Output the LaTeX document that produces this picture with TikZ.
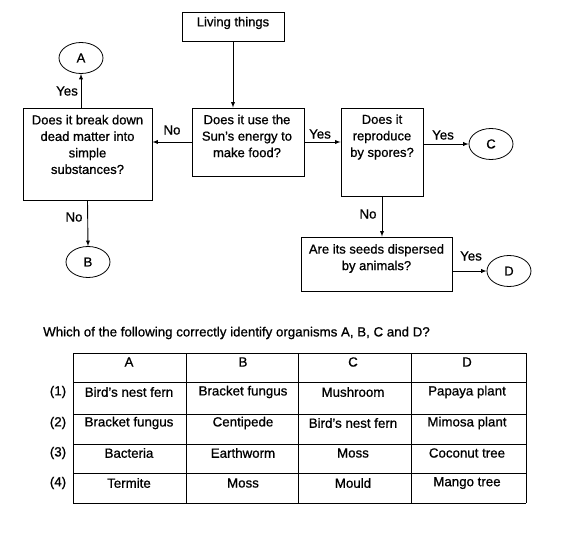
\documentclass[tikz,border=0pt]{standalone}
\usepackage{fontspec}
\setmainfont{Liberation Sans}[FakeBold=0.8]
\usepackage{tikz}
\usetikzlibrary{positioning}
\usetikzlibrary{arrows}
\usetikzlibrary{shapes.geometric}
\tikzset{
    QBox/.style={draw,line width=0.9pt,inner sep=0pt},
    QText/.style={align=center,font=\fontsize{13}{16.5}\selectfont,inner sep=1pt},
    Answer/.style={draw,ellipse,line width=0.8pt,minimum width=44pt,minimum height=31pt,inner sep=0pt,font=\fontsize{13}{15}\selectfont},
    Flow/.style={-latex,line width=0.9pt},
    Word/.style={font=\fontsize{13.3}{15}\selectfont,inner sep=1pt},
    Cell/.style={font=\fontsize{13.3}{15}\selectfont,inner sep=1pt}
}

\begin{document}
\begin{tikzpicture}[x=1pt,y=-1pt]
            \useasboundingbox[fill=white] (0,0) rectangle (574,541);

            % flow chart
            \begin{scope}
                \node[QBox,minimum width=102pt,minimum height=29pt] (living) at (233,26.5) {};
                \node[QText] (livingtext) at (233,23) {Living things};

                \node[QBox,minimum width=112pt,minimum height=68pt] (sun) at (248,142) {};
                \node[QText] (suntext) at (247,136) {Does it use the\\Sun's energy to\\make food?};

                \node[QBox,minimum width=129pt,minimum height=92pt] (decomp) at (87.5,154) {};
                \node[QText] (decomptext) at (87.5,144.5) {Does it break down\\dead matter into\\simple\\substances?};

                \node[QBox,minimum width=82pt,minimum height=88pt] (spores) at (382,152) {};
                \node[QText] (sporestext) at (382,137) {Does it\\reproduce\\by spores?};

                \node[QBox,minimum width=151pt,minimum height=54pt] (seeds) at (376.5,264) {};
                \node[QText] (seedstext) at (376.5,258.5) {Are its seeds dispersed\\by animals?};

                \node[Answer] (A) at (81,58) {A};
                \node[Answer] (B) at (88,262) {B};
                \node[Answer] (C) at (491,144) {C};
                \node[Answer] (D) at (509,271) {D};

                \draw[Flow] (living.south) -- (living.south |- sun.north);
                \draw[Flow] (sun.west) -- (sun.west -| decomp.east);
                \draw[Flow] (A.south |- decomp.north) -- (A.south);
                \draw[Flow] (decomp.south) -- (B.north);
                \draw[Flow] (sun.east) -- (sun.east -| spores.west);
                \draw[Flow] (C.west -| spores.east) -- (C.west);
                \draw[Flow] (spores.south) -- (spores.south |- seeds.north);
                \draw[Flow] (D.west -| seeds.east) -- (D.west);

                \node[Word] (noleft) at (172,130) {No};
                \node[Word] (yesup) at (67,91) {Yes};
                \node[Word] (nodown) at (74,217) {No};
                \node[Word] (yesmid) at (320,134) {Yes};
                \node[Word] (yesright) at (443,135) {Yes};
                \node[Word] (nospores) at (368,214) {No};
                \node[Word] (yesseeds) at (471,256) {Yes};
            \end{scope}

            % question and table
            \begin{scope}
                \node[Word,anchor=west] (question) at (42,333) {Which of the following correctly identify organisms A, B, C and D?};

                \foreach \ypos in {353,382,414,444,473,503}
                    \draw[line width=0.9pt] (73,\ypos) -- (526,\ypos);
                \foreach \xpos in {73,186,298,411,526}
                    \draw[line width=0.9pt] (\xpos,353) -- (\xpos,503);

                \node[Cell] (headA) at (129,362) {A};
                \node[Cell] (headB) at (243,362) {B};
                \node[Cell] (headC) at (353,362) {C};
                \node[Cell] (headD) at (467,362) {D};

                \node[Cell] (opt1) at (58,392) {(1)};
                \node[Cell] (opt2) at (58,423) {(2)};
                \node[Cell] (opt3) at (58,453) {(3)};
                \node[Cell] (opt4) at (58,483) {(4)};

                \node[Cell] (r1a) at (129,392) {Bird's nest fern};
                \node[Cell] (r1b) at (243,392) {Bracket fungus};
                \node[Cell] (r1c) at (353,392) {Mushroom};
                \node[Cell] (r1d) at (467,392) {Papaya plant};

                \node[Cell] (r2a) at (129,423) {Bracket fungus};
                \node[Cell] (r2b) at (243,423) {Centipede};
                \node[Cell] (r2c) at (353,423) {Bird's nest fern};
                \node[Cell] (r2d) at (467,423) {Mimosa plant};

                \node[Cell] (r3a) at (129,453) {Bacteria};
                \node[Cell] (r3b) at (243,453) {Earthworm};
                \node[Cell] (r3c) at (353,453) {Moss};
                \node[Cell] (r3d) at (467,453) {Coconut tree};

                \node[Cell] (r4a) at (129,483) {Termite};
                \node[Cell] (r4b) at (243,483) {Moss};
                \node[Cell] (r4c) at (353,483) {Mould};
                \node[Cell] (r4d) at (467,483) {Mango tree};
            \end{scope}
        \end{tikzpicture}
\end{document}
